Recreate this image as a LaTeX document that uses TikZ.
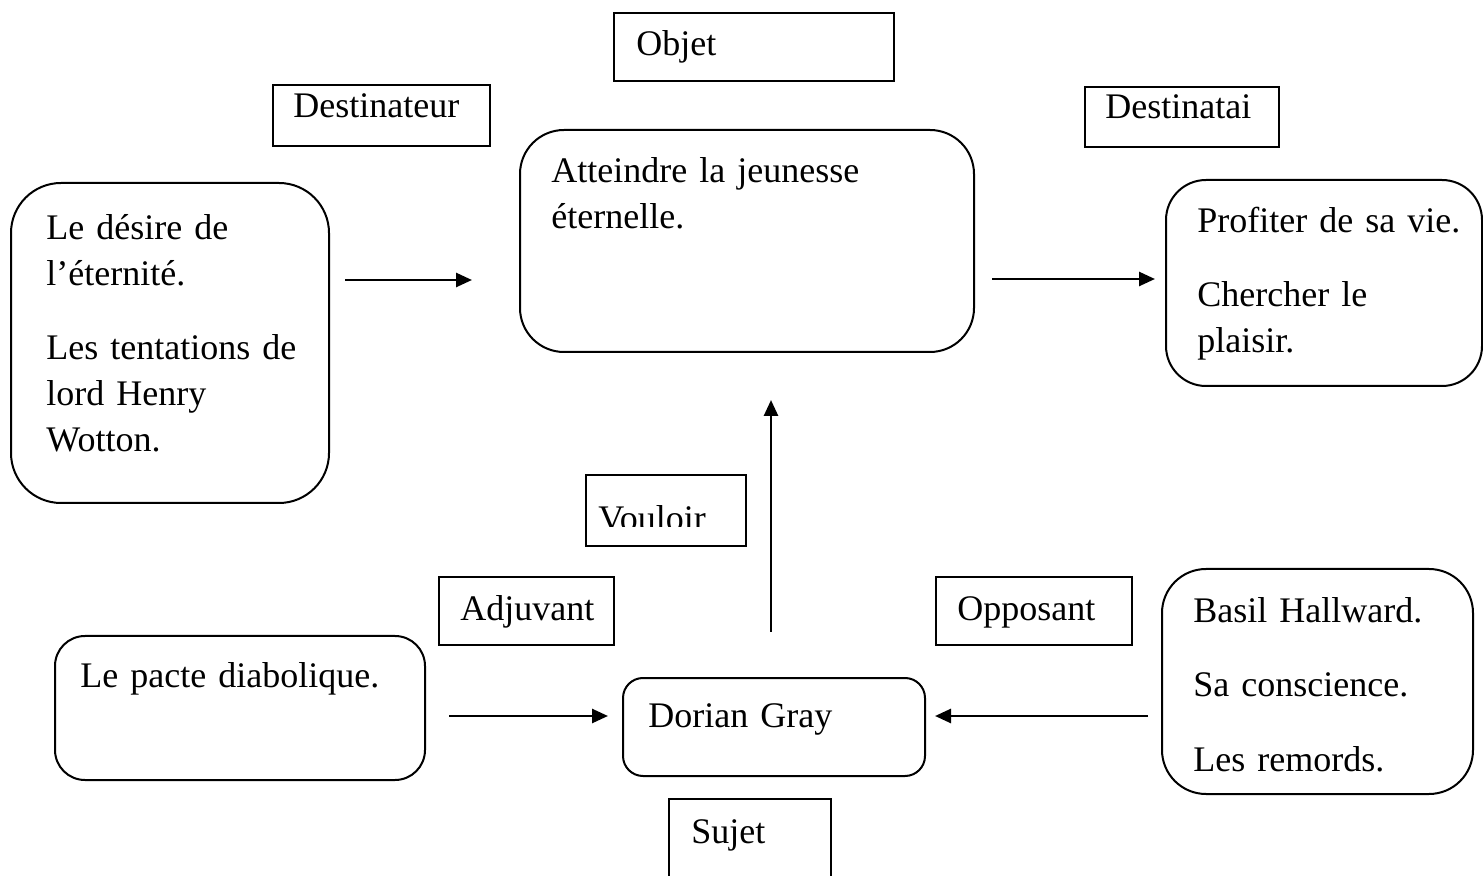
\documentclass[tikz,border=0pt]{standalone}
\usepackage{fontspec}
\setmainfont{Liberation Serif}[WordSpace=0.75]
\usetikzlibrary{arrows.meta}

\begin{document}
\begin{tikzpicture}[x=0.5pt,y=-0.5pt,
        cadre/.style={draw, line width=1pt, inner sep=0pt, outer sep=0pt},
        arrondi/.style={cadre, rounded corners=#1},
        taille/.style 2 args={minimum width=#1*0.5pt, minimum height=#2*0.5pt},
        texte/.style={font=\fontsize{18pt}{23pt}\selectfont, inner sep=0pt, anchor=base west, align=left, text width=170pt},
        fleche/.style={line width=1.3pt, -{Triangle[length=8pt,width=7pt]}}]
    \def\sep{14pt};
    \useasboundingbox (0,0) rectangle (1483,876);
    \clip (0,0) rectangle (1483,876);
    %etiquettes
    \node[cadre, taille={280}{68}] (objlab) at (754,47) {};
    \node[cadre, taille={217}{61}] (destlab) at (381.5,115.5) {};
    \node[cadre, taille={194}{60}] (destilab) at (1182,117) {};
    \node[cadre, taille={160}{71}] (voulab) at (666,510.5) {};
    \node[cadre, taille={175}{68}] (adjlab) at (526.5,611) {};
    \node[cadre, taille={196}{68}] (opplab) at (1034,611) {};
    \node[cadre, taille={162}{101}] (sujlab) at (750,849.5) {};
    \node[texte] (objlabtxt) at (636,56) {Objet};
    \node[texte] (destlabtxt) at (293,118) {Destinateur};
    \node[texte] (destilabtxt) at (1105,119) {Destinatai};
    \node[texte] (adjlabtxt) at (460,620) {Adjuvant};
    \node[texte] (opplabtxt) at (957,620) {Opposant};
    \node[texte] (sujlabtxt) at (691,843) {Sujet};
    \begin{scope}
        \clip (586,475) rectangle (746,527);
        \node[texte] (voulabtxt) at (598,531) {Vouloir};
    \end{scope}
    %cases arrondies
    \node[arrondi=22pt, taille={454}{222}] (objet) at (747,241) {};
    \node[arrondi=25pt, taille={318}{320}] (dest) at (170,343) {};
    \node[arrondi=20pt, taille={316}{206}] (desti) at (1324,283) {};
    \node[arrondi=15pt, taille={370}{144}] (adj) at (240,708) {};
    \node[arrondi=10pt, taille={302}{98}] (sujet) at (774,727) {};
    \node[arrondi=22pt, taille={311}{225}] (opp) at (1317.5,681.5) {};
    \node[texte] (objettxt) at (551,183) {Atteindre la jeunesse\\éternelle.};
    \node[texte] (desttxt) at (46,240) {Le désire de\\l’éternité.\\[\sep]Les tentations de\\lord Henry\\Wotton.};
    \node[texte] (destitxt) at (1197,233) {Profiter de sa vie.\\[\sep]Chercher le\\plaisir.};
    \node[texte] (adjtxt) at (80,687) {Le pacte diabolique.};
    \node[texte] (sujettxt) at (648,727) {Dorian Gray};
    \node[texte] (opptxt) at (1193,623) {Basil Hallward.\\[\sep]Sa conscience.\\[\sep]Les remords.};
    %fleches
    \coordinate (f1a) at (345,280);
    \coordinate (f1b) at (472,280);
    \coordinate (f2a) at (992,279);
    \coordinate (f2b) at (1155,279);
    \coordinate (f3a) at (771,632);
    \coordinate (f3b) at (771,400);
    \coordinate (f4a) at (449,716);
    \coordinate (f4b) at (608,716);
    \coordinate (f5a) at (1148,716);
    \coordinate (f5b) at (935,716);
    \foreach \a/\b in {f1a/f1b,f2a/f2b,f3a/f3b,f4a/f4b,f5a/f5b}{
        \draw[fleche] (\a) -- (\b);}
\end{tikzpicture}
\end{document}
